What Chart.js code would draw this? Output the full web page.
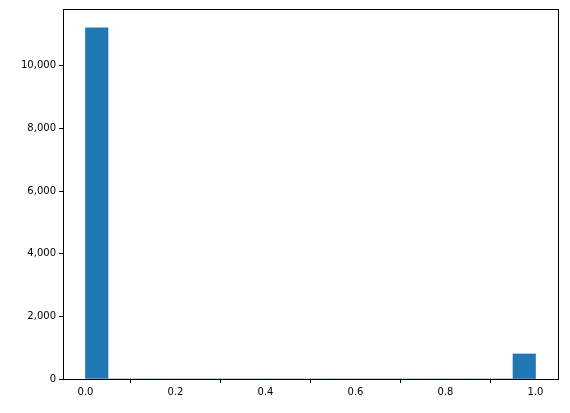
<!DOCTYPE html>
<html><head><script src="https://cdn.jsdelivr.net/npm/chart.js@4"></script>
<style>html,body{margin:0;padding:0;background:#fff}</style></head>
<body><div style="width:570px;height:413px"><canvas id="c" width="570" height="413"></canvas></div>
<script>
const binCenters=[0.025,0.075,0.125,0.175,0.225,0.275,0.325,0.375,0.425,0.475,0.525,0.575,0.625,0.675,0.725,0.775,0.825,0.875,0.925,0.975];
const counts=[11210,0,0,0,0,0,0,0,0,0,0,0,0,0,0,0,0,0,0,800];
const xTicks=[0,0.2,0.4,0.6,0.8,1.0];
const yTicks=[0,2000,4000,6000,8000,10000];
const frame={id:'frame',afterDraw(c){const a=c.chartArea,x=c.ctx;x.save();x.strokeStyle='#000';x.lineWidth=1;x.strokeRect(a.left+0.5,a.top+0.5,a.right-a.left,a.bottom-a.top);x.restore();}};
new Chart(document.getElementById('c'),{type:'bar',
data:{datasets:[{data:binCenters.map((v,i)=>({x:v,y:counts[i]})),backgroundColor:'#1f77b4',barPercentage:1,categoryPercentage:1}]},
options:{responsive:false,animation:false,plugins:{legend:{display:false},tooltip:{enabled:false}},
layout:{padding:{top:8,right:12,left:0,bottom:0}},
scales:{
x:{type:'linear',min:-0.05,max:1.05,offset:false,
afterBuildTicks(s){s.ticks=xTicks.map(v=>({value:v}));},
afterFit(s){s.height=34;},
ticks:{color:'#000',font:{family:'DejaVu Sans',size:10},callback:v=>v.toFixed(1),maxRotation:0},
grid:{drawOnChartArea:false,tickLength:4,color:'#000'},border:{color:'#000'}},
y:{min:0,max:11815,
afterBuildTicks(s){s.ticks=yTicks.map(v=>({value:v}));},
afterFit(s){s.width=63;},
ticks:{color:'#000',font:{family:'DejaVu Sans',size:10}},
grid:{drawOnChartArea:false,tickLength:4,color:'#000'},border:{color:'#000'}}}},
plugins:[frame]});
</script></body></html>
